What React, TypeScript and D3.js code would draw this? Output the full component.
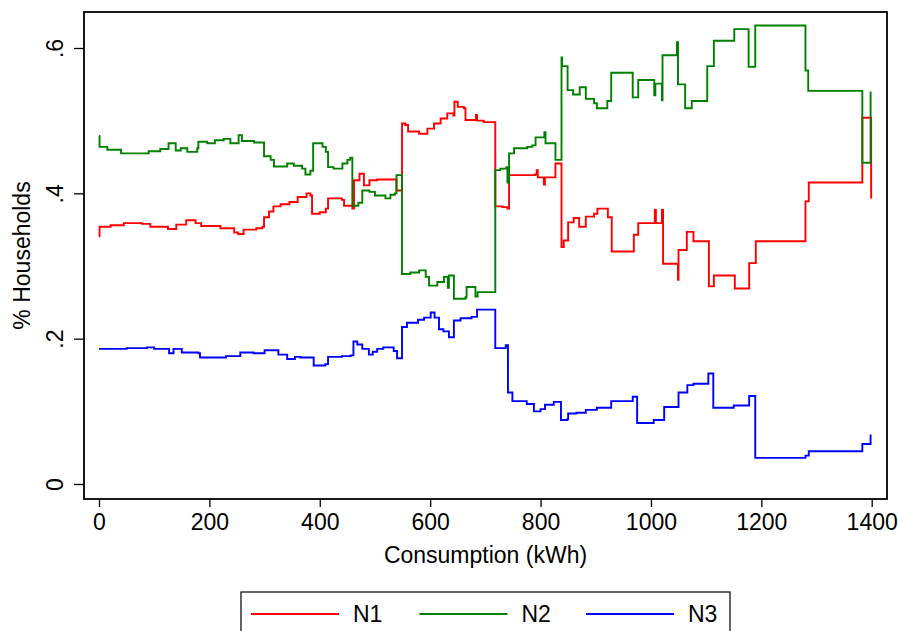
import { useEffect, useRef } from "react";
import * as d3 from "d3";

// page + frame geometry (Stata-like plot region)
const W = 898;
const H = 631;
const frame = { left: 84, right: 887, top: 12, bottom: 499 };
const font = "'Liberation Sans', Arial, sans-serif";

const xTicks = [0, 200, 400, 600, 800, 1000, 1200, 1400];
const yTicks = [0, 0.2, 0.4, 0.6];
const yTickLabels = ["0", ".2", ".4", ".6"];

const seriesNames = ["N1", "N2", "N3"];
const seriesColors = ["#ff0000", "#008000", "#0000ff"];

// [consumption kWh, share] - value holds from x until the next point
const n1: [number, number][] = [
  [0, 0.341], [1, 0.354], [21, 0.356], [45, 0.359], [78, 0.358], [93, 0.354],
  [125, 0.351], [140, 0.357], [158, 0.363], [175, 0.359], [185, 0.355], [220, 0.352],
  [245, 0.346], [252, 0.344], [262, 0.35], [285, 0.352], [296, 0.354], [299, 0.367],
  [308, 0.375], [316, 0.382], [329, 0.385], [345, 0.388], [360, 0.395], [376, 0.4],
  [383, 0.397], [386, 0.372], [400, 0.374], [411, 0.379], [415, 0.393], [440, 0.391],
  [444, 0.383], [459, 0.379], [462, 0.418], [472, 0.427], [480, 0.411], [490, 0.418],
  [504, 0.419], [539, 0.404], [549, 0.496], [555, 0.494], [560, 0.485], [580, 0.482],
  [595, 0.489], [607, 0.496], [619, 0.503], [631, 0.51], [642, 0.507], [644, 0.526],
  [650, 0.519], [661, 0.517], [664, 0.501], [680, 0.501], [683, 0.508], [685, 0.5],
  [697, 0.498], [718, 0.382], [731, 0.381], [740, 0.379], [743, 0.425], [790, 0.426],
  [793, 0.432], [795, 0.422], [806, 0.412], [808, 0.422], [827, 0.441], [838, 0.326],
  [842, 0.335], [850, 0.36], [860, 0.366], [870, 0.354], [882, 0.368], [897, 0.372],
  [903, 0.379], [922, 0.367], [929, 0.32], [969, 0.343], [977, 0.359], [1007, 0.377],
  [1009, 0.359], [1020, 0.377], [1022, 0.303], [1049, 0.281], [1050, 0.322],
  [1065, 0.347], [1077, 0.334], [1105, 0.272], [1114, 0.287], [1152, 0.269],
  [1178, 0.304], [1190, 0.334], [1280, 0.389], [1286, 0.415], [1383, 0.504], [1399, 0.393],
];

const n2: [number, number][] = [
  [0, 0.479], [1, 0.464], [15, 0.46], [40, 0.455], [90, 0.458], [111, 0.461],
  [126, 0.469], [139, 0.459], [148, 0.462], [160, 0.457], [178, 0.462], [180, 0.471],
  [196, 0.469], [210, 0.473], [226, 0.475], [238, 0.469], [253, 0.48], [259, 0.472],
  [281, 0.47], [299, 0.451], [311, 0.446], [317, 0.437], [341, 0.441], [353, 0.438],
  [368, 0.434], [374, 0.426], [383, 0.431], [388, 0.469], [405, 0.464], [411, 0.457],
  [415, 0.436], [425, 0.434], [441, 0.441], [450, 0.446], [455, 0.449], [459, 0.383],
  [470, 0.387], [477, 0.404], [490, 0.402], [500, 0.397], [519, 0.393], [528, 0.398],
  [536, 0.4], [539, 0.425], [549, 0.289], [564, 0.291], [580, 0.294], [592, 0.285],
  [598, 0.273], [613, 0.278], [625, 0.285], [632, 0.27], [634, 0.287], [643, 0.255],
  [664, 0.257], [666, 0.271], [682, 0.258], [686, 0.264], [718, 0.432], [727, 0.434],
  [738, 0.436], [740, 0.415], [743, 0.455], [752, 0.462], [776, 0.464], [785, 0.466],
  [791, 0.477], [805, 0.477], [807, 0.484], [809, 0.469], [827, 0.446], [838, 0.587],
  [839, 0.575], [849, 0.542], [859, 0.536], [871, 0.546], [882, 0.53], [897, 0.524],
  [902, 0.517], [921, 0.527], [928, 0.566], [967, 0.532], [977, 0.556], [1006, 0.535],
  [1008, 0.551], [1020, 0.528], [1021, 0.59], [1047, 0.608], [1049, 0.55], [1062, 0.517],
  [1074, 0.527], [1102, 0.575], [1114, 0.61], [1151, 0.626], [1177, 0.574], [1189, 0.631],
  [1280, 0.569], [1285, 0.541], [1383, 0.442], [1398, 0.54],
];

const n3: [number, number][] = [
  [0, 0.186], [50, 0.187], [87, 0.188], [100, 0.186], [127, 0.18], [135, 0.186],
  [150, 0.181], [180, 0.18], [183, 0.174], [230, 0.176], [256, 0.181], [280, 0.18],
  [300, 0.184], [325, 0.178], [341, 0.172], [355, 0.175], [365, 0.174], [389, 0.163],
  [410, 0.165], [415, 0.175], [440, 0.176], [456, 0.177], [461, 0.196], [468, 0.192],
  [477, 0.186], [489, 0.178], [496, 0.182], [504, 0.186], [515, 0.188], [534, 0.183],
  [540, 0.173], [549, 0.216], [558, 0.222], [578, 0.226], [589, 0.229], [601, 0.236],
  [608, 0.229], [616, 0.213], [624, 0.21], [634, 0.202], [643, 0.225], [655, 0.228],
  [675, 0.23], [685, 0.24], [718, 0.187], [737, 0.191], [741, 0.126], [749, 0.114],
  [775, 0.11], [788, 0.1], [800, 0.103], [808, 0.109], [824, 0.113], [837, 0.088],
  [848, 0.089], [850, 0.097], [865, 0.098], [882, 0.102], [902, 0.105], [928, 0.114],
  [967, 0.12], [975, 0.084], [1005, 0.088], [1024, 0.106], [1050, 0.126], [1066, 0.136],
  [1077, 0.138], [1104, 0.152], [1113, 0.105], [1150, 0.108], [1178, 0.121], [1189, 0.036],
  [1280, 0.039], [1286, 0.045], [1383, 0.055], [1398, 0.068],
];

const allSeries = [n1, n2, n3];

const App = () => {
  const ref = useRef<SVGSVGElement>(null);

  useEffect(() => {
    const svg = d3.select(ref.current);
    svg.selectAll("*").remove();

    const x = d3.scaleLinear().domain([0, 1400]).range([99, 871.7]);
    const y = d3.scaleLinear().domain([0, 0.6]).range([484, 48]);

    svg.append("rect").attr("width", W).attr("height", H).attr("fill", "#fff");

    // data lines (stairsteps)
    const line = d3.line<[number, number]>()
      .x(d => x(d[0]))
      .y(d => y(d[1]))
      .curve(d3.curveStepAfter);

    allSeries.forEach((s, i) => {
      svg.append("path")
        .datum(s)
        .attr("d", line)
        .attr("fill", "none")
        .attr("stroke", seriesColors[i])
        .attr("stroke-width", 1.9)
        .attr("stroke-linejoin", "miter");
    });

    // frame
    svg.append("rect")
      .attr("x", frame.left)
      .attr("y", frame.top)
      .attr("width", frame.right - frame.left)
      .attr("height", frame.bottom - frame.top)
      .attr("fill", "none")
      .attr("stroke", "#000")
      .attr("stroke-width", 1.8);

    // x axis
    const gx = svg.append("g")
      .attr("transform", `translate(0,${frame.bottom})`)
      .call(d3.axisBottom(x).tickValues(xTicks).tickSize(8).tickSizeOuter(0).tickFormat(d3.format("d")));
    gx.select(".domain").remove();
    gx.selectAll("line").attr("stroke", "#000").attr("stroke-width", 1.3);
    gx.selectAll("text")
      .attr("y", 30.5)
      .attr("dy", 0)
      .attr("fill", "#000")
      .attr("font-size", 23)
      .attr("font-family", font);

    // y axis
    const gy = svg.append("g")
      .attr("transform", `translate(${frame.left},0)`)
      .call(d3.axisLeft(y).tickValues(yTicks).tickSize(10).tickSizeOuter(0)
        .tickFormat((d, i) => yTickLabels[i]));
    gy.select(".domain").remove();
    gy.selectAll("line").attr("stroke", "#000").attr("stroke-width", 1.3);
    gy.selectAll("text")
      .attr("x", 0)
      .attr("dy", 0)
      .attr("transform", "translate(-21.5,0) rotate(-90)")
      .attr("text-anchor", "middle")
      .attr("fill", "#000")
      .attr("font-size", 23)
      .attr("font-family", font);

    // axis titles
    svg.append("text")
      .attr("x", (frame.left + frame.right) / 2)
      .attr("y", 563)
      .attr("text-anchor", "middle")
      .attr("font-size", 23)
      .attr("font-family", font)
      .text("Consumption (kWh)");

    svg.append("text")
      .attr("transform", `translate(30,${(frame.top + frame.bottom) / 2}) rotate(-90)`)
      .attr("text-anchor", "middle")
      .attr("font-size", 23)
      .attr("font-family", font)
      .text("% Households");

    // legend
    const legend = svg.append("g");
    legend.append("rect")
      .attr("x", 241)
      .attr("y", 592)
      .attr("width", 489)
      .attr("height", 60)
      .attr("fill", "#fff")
      .attr("stroke", "#000")
      .attr("stroke-width", 1.2);

    const keyX = [251, 419.5, 586];
    seriesNames.forEach((name, i) => {
      legend.append("line")
        .attr("x1", keyX[i])
        .attr("x2", keyX[i] + 88)
        .attr("y1", 614)
        .attr("y2", 614)
        .attr("stroke", seriesColors[i])
        .attr("stroke-width", 2.2);
      legend.append("text")
        .attr("x", keyX[i] + 102)
        .attr("y", 621.5)
        .attr("font-size", 23)
        .attr("font-family", font)
        .text(name);
    });

    return () => { svg.selectAll("*").remove(); };
  }, []);

  return (
    <svg ref={ref} width={W} height={H} style={{ position: "absolute", left: 0, top: 0 }} />
  );
};

export default App;
